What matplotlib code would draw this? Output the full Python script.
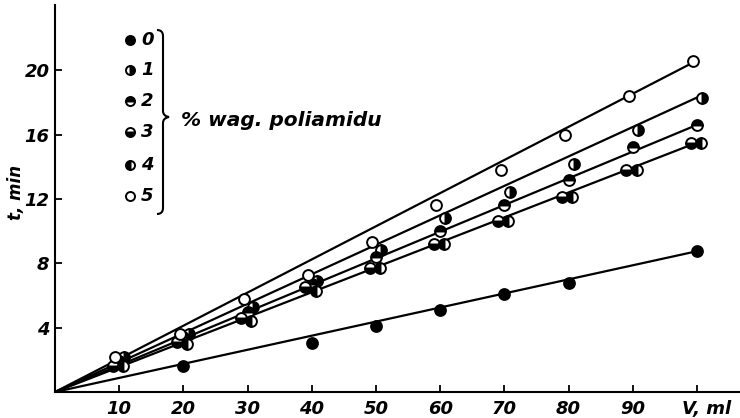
import matplotlib
matplotlib.use("Agg")
import matplotlib.pyplot as plt
import matplotlib.transforms as mtransforms
from matplotlib.path import Path
from matplotlib.patches import PathPatch

# volume V [ml] and elution time t [min] for each polyamide content (% wag.)
V = [10, 20, 30, 40, 50, 60, 70, 80, 90, 100]
V0 = [20, 40, 50, 60, 70, 80, 100]
t0 = [1.6, 3.05, 4.1, 5.1, 6.1, 6.8, 8.75]
t1 = [2.2, 3.6, 5.3, 6.9, 8.8, 10.8, 12.4, 14.2, 16.3, 18.3]
t2 = [1.9, 3.4, 5.0, 6.7, 8.4, 10.0, 11.6, 13.2, 15.2, 16.6]
t3 = [1.6, 3.1, 4.6, 6.5, 7.7, 9.2, 10.6, 12.1, 13.8, 15.5]
t4 = [1.6, 3.0, 4.4, 6.3, 7.7, 9.2, 10.6, 12.1, 13.8, 15.5]
t5 = [2.2, 3.6, 5.8, 7.3, 9.3, 11.6, 13.8, 16.0, 18.4, 20.6]

# straight lines from the origin, value of t at V = 100 ml
line_ends = [8.75, 15.5, 16.6, 18.3, 20.6]

legend_labels = ["0", "1", "2", "3", "4", "5"]
xtick_vals = [10, 20, 30, 40, 50, 60, 70, 80, 90, 100]
xtick_labels = ["10", "20", "30", "40", "50", "60", "70", "80", "90", "V, ml"]
ytick_vals = [4, 8, 12, 16, 20]

plt.rcParams["font.family"] = ["DejaVu Sans"]
plt.rcParams["font.style"] = "italic"

fig = plt.figure(figsize=(7.4, 4.18), dpi=100)
ax = fig.add_axes([55 / 740, 1 - 392 / 418, 1 - 55 / 740, (392 - 5) / 418])

for end in line_ends:
    ax.plot([0, 100], [0, end], color="black", lw=1.6, zorder=2)

ms = 7.8
mew = 1.4
style = dict(color="black", markeredgecolor="black", markerfacecoloralt="white",
             markersize=ms, markeredgewidth=mew, linestyle="none", zorder=3)

ax.plot(V0, t0, "o", markerfacecolor="black", **style)
ax.plot([v + 0.8 for v in V], t1, "o", fillstyle="right", **style)
ax.plot(V, t2, "o", fillstyle="top", **style)
ax.plot([v - 1.0 for v in V], t3, "o", fillstyle="bottom", **style)
ax.plot([v + 0.6 for v in V], t4, "o", fillstyle="left", **style)
ax.plot([v - 0.6 for v in V], t5, "o", markerfacecolor="white", **style)

ax.set_xlim(0, 106.7)
ax.set_ylim(0, 24.05)
for s in ["top", "right"]:
    ax.spines[s].set_visible(False)
for s in ["left", "bottom"]:
    ax.spines[s].set_linewidth(1.5)

ax.set_xticks(xtick_vals)
ax.set_xticklabels(xtick_labels)
ax.set_yticks(ytick_vals)
ax.tick_params(direction="in", length=5, width=1.3, labelsize=13, pad=6)
ax.tick_params(axis="y", pad=4)
for lab in ax.get_xticklabels() + ax.get_yticklabels():
    lab.set_fontweight("bold")
    lab.set_fontstyle("italic")
# push the last label ("V, ml") a little to the right
last = ax.get_xticklabels()[-1]
last.set_transform(last.get_transform() +
                   mtransforms.ScaledTranslation(10 / 100, 0, fig.dpi_scale_trans))

fig.text(16 / 740, 1 - 192 / 418, "t, min", rotation=90, fontsize=12,
         fontweight="bold", style="italic", ha="center", va="center")

# legend with markers and brace
leg_y = [40, 70, 101, 132, 165, 196]
fills = [("full", "black"), ("right", "black"), ("top", "black"),
         ("bottom", "black"), ("left", "black"), ("full", "white")]
for yy, lab, (fs, fc) in zip(leg_y, legend_labels, fills):
    fig.lines.append(plt.Line2D([130 / 740], [1 - yy / 418], transform=fig.transFigure,
                                marker="o", fillstyle=fs, markerfacecolor=fc,
                                markerfacecoloralt="white", markeredgecolor="black",
                                markersize=6.5, markeredgewidth=1.4, linestyle="none"))
    fig.text(141 / 740, 1 - yy / 418, lab, fontsize=13, fontweight="bold",
             style="italic", ha="left", va="center")

def fp(x, y):
    return (x / 740, 1 - y / 418)

verts = [fp(157, 30), fp(163, 30), fp(163, 36), fp(163, 111),
         fp(163, 116), fp(169, 117), fp(163, 118), fp(163, 123),
         fp(163, 208), fp(163, 214), fp(157, 214)]
codes = [Path.MOVETO, Path.CURVE3, Path.CURVE3, Path.LINETO,
         Path.CURVE3, Path.CURVE3, Path.CURVE3, Path.CURVE3,
         Path.LINETO, Path.CURVE3, Path.CURVE3]
fig.patches.append(PathPatch(Path(verts, codes), transform=fig.transFigure,
                             facecolor="none", edgecolor="black", lw=1.5))
fig.text(181 / 740, 1 - 120 / 418, "% wag. poliamidu", fontsize=14.5,
         fontweight="bold", style="italic", ha="left", va="center")

fig.savefig("out.png", dpi=100)
